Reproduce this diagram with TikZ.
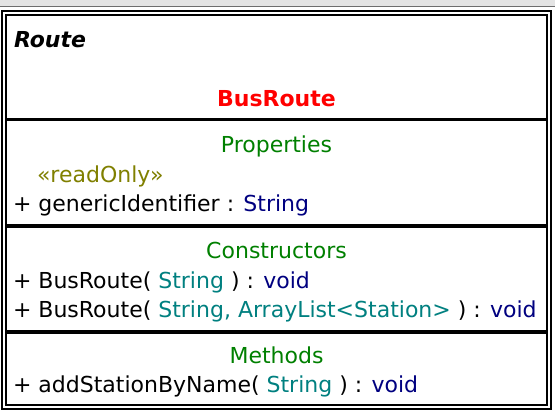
\documentclass[tikz,border=0pt]{standalone}
\usepackage{fontspec}
\setmainfont{DejaVu Sans}
\definecolor{hdgreen}{RGB}{0,128,0}
\definecolor{stolive}{RGB}{128,128,0}
\definecolor{tynavy}{RGB}{0,0,128}
\definecolor{prteal}{RGB}{0,128,128}
\definecolor{bandgray}{RGB}{228,228,228}
\definecolor{bandline}{RGB}{110,110,110}
\newcommand\ptype[1]{\textcolor{prteal}{#1}}
\newcommand\rtype[1]{\textcolor{tynavy}{#1}}
\begin{document}
\begin{tikzpicture}[x=1pt,y=-1pt,
  txt/.style={inner sep=0pt,outer sep=0pt,font=\fontsize{22}{26}\selectfont},
  leftline/.style={txt,anchor=base west},
  heading/.style={txt,anchor=base,text=hdgreen},
  frame/.style={line width=2pt,draw=black},
  sepline/.style={line width=3.5pt,draw=black}]
\useasboundingbox (0,0) rectangle (555,413);
\fill[white] (0,0) rectangle (555,413);
% top band
\fill[bandgray] (0,0) rectangle (555,6);
\draw[bandline,line width=1.5pt] (0,6.5) -- (555,6.5);
% frames
\draw[frame] (2,11) rectangle (551,409);
\draw[frame] (6,15) rectangle (547,405);
% separators
\coordinate (s1l) at (6,119.5); \coordinate (s1r) at (547,119.5);
\coordinate (s2l) at (6,226);   \coordinate (s2r) at (547,226);
\coordinate (s3l) at (6,332);   \coordinate (s3r) at (547,332);
\draw[sepline] (s1l) -- (s1r);
\draw[sepline] (s2l) -- (s2r);
\draw[sepline] (s3l) -- (s3r);
% texts
\node[leftline,font=\fontsize{22}{26}\selectfont\bfseries\itshape] (parent) at (14,47) {Route};
\node[txt,anchor=base,text=red,font=\fontsize{22}{26}\selectfont\bfseries] (cls) at (276.5,106) {BusRoute};
\node[heading] (hprop) at (276.5,152) {Properties};
\node[leftline,text=stolive] (stereo) at (37,182) {«readOnly»};
\node[leftline] (prop1) at (13,211) {+ genericIdentifier : \rtype{String}};
\node[heading] (hctor) at (276.5,258) {Constructors};
\node[leftline] (ctor1) at (13,288) {+ BusRoute( \ptype{String} ) : \rtype{void}};
\node[leftline] (ctor2) at (13,317) {+ BusRoute( \ptype{String, ArrayList<Station>} ) : \rtype{void}};
\node[heading] (hmeth) at (276.5,363) {Methods};
\node[leftline] (meth1) at (13,392) {+ addStationByName( \ptype{String} ) : \rtype{void}};
\end{tikzpicture}
\end{document}
